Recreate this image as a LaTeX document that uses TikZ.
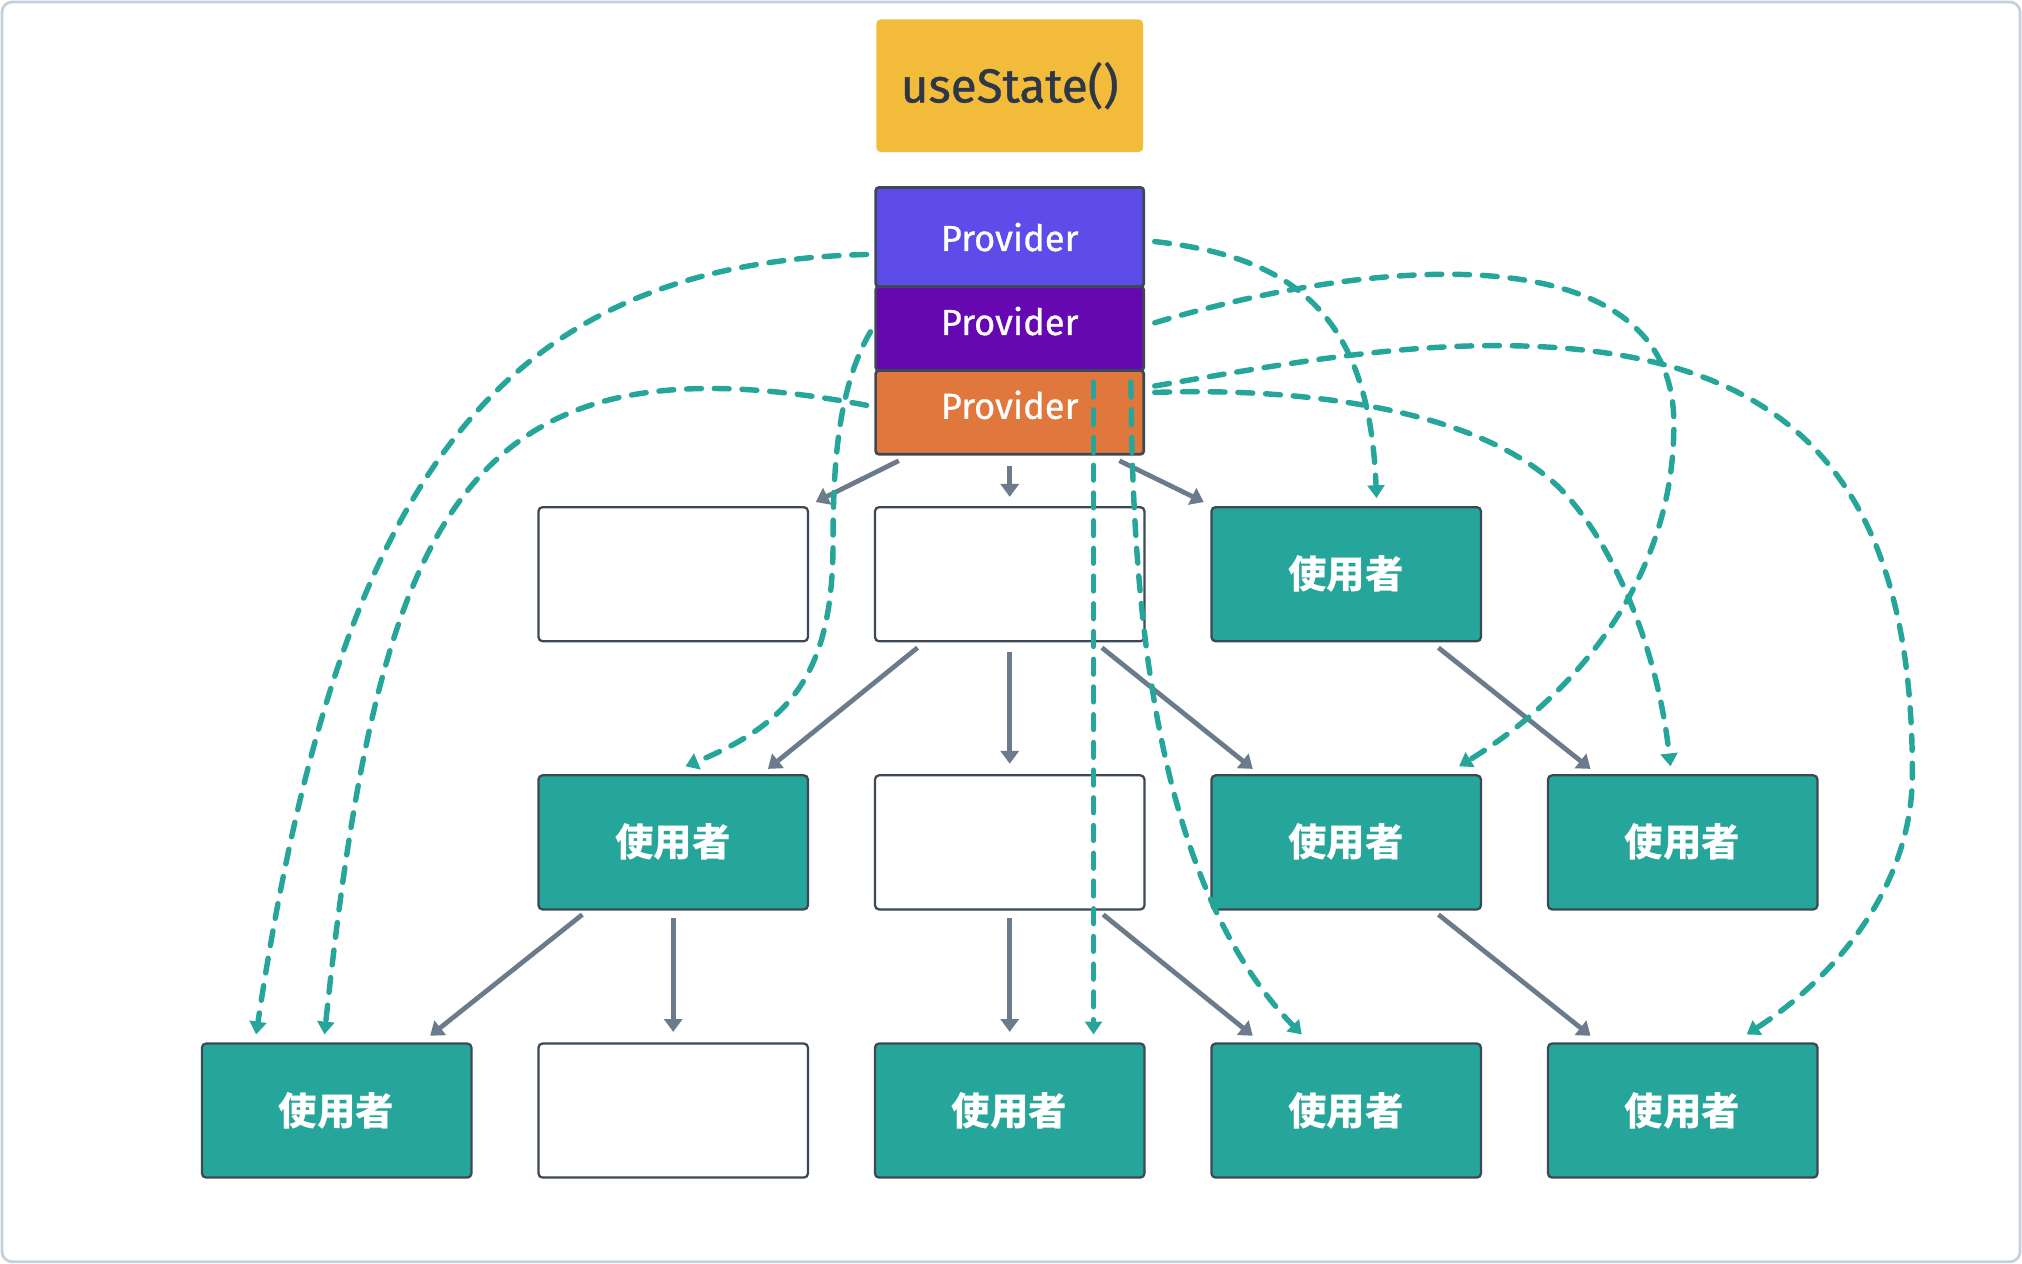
\documentclass[tikz,border=0pt]{standalone}
\usepackage{fontspec}
\setmainfont{Fira Sans}
\newfontfamily\labelfont{Fira Sans}[FakeBold=0.8]
\newfontfamily\cjk{Noto Sans CJK JP}
\usetikzlibrary{positioning,arrows.meta}

\definecolor{usergreen}{RGB}{38,166,154}
\definecolor{edgegrey}{RGB}{108,123,139}
\definecolor{boxline}{RGB}{61,72,84}
\definecolor{framegrey}{RGB}{196,208,220}
\definecolor{stateyellow}{RGB}{242,187,58}
\definecolor{statetext}{RGB}{45,55,72}
\definecolor{provA}{RGB}{93,76,234}
\definecolor{provB}{RGB}{102,8,178}
\definecolor{provC}{RGB}{224,120,61}

\begin{document}
\begin{tikzpicture}[
        x=0.02cm, y=-0.02cm,
        node distance=2.08cm and 1.04cm,
        flow/.style={-{Triangle[length=2mm, width=2.8mm]}, line width=2.1pt, draw=edgegrey},
        link/.style={-{Triangle[length=2mm, width=2.6mm]}, line width=2.4pt, draw=usergreen,
            dash pattern=on 2.3mm off 2mm, line cap=round},
        blank/.style={
            rectangle,
            rounded corners=1.8pt,
            draw=boxline,
            fill=white,
            line width=1pt,
            minimum width=4.18cm,
            minimum height=2.08cm,
            outer sep=0pt
        },
        user/.style={
            blank,
            fill=usergreen,
            text=white,
            font=\cjk\bfseries\fontsize{17}{20}\selectfont
        },
        provider/.style={
            rectangle,
            rounded corners=1.5pt,
            draw=boxline,
            line width=1.2pt,
            text=white,
            minimum width=4.16cm,
            font=\labelfont\fontsize{16}{19}\selectfont,
            outer sep=0pt
        }
    ]

    \useasboundingbox (0,0) rectangle (1568,980);
    \draw[framegrey, line width=1.2pt, rounded corners=1.6mm] (1.5,1.5) rectangle (1566.5,978.5);

    \node[rectangle, rounded corners=2pt, fill=stateyellow, text=statetext,
        minimum width=4.14cm, minimum height=2.06cm,
        font=\labelfont\fontsize{21}{25}\selectfont] (state) at (783,66.5) {useState()};

    \node[provider, fill=provA, minimum height=1.54cm, below=0.54cm of state] (provA) {Provider};
    \node[provider, fill=provB, minimum height=1.3cm, text depth=0.24cm, below=0pt of provA] (provB) {Provider};
    \node[provider, fill=provC, minimum height=1.3cm, text depth=0.24cm, below=0pt of provB] (provC) {Provider};

    % first row
    \node[blank, below=0.82cm of provC] (blank2) {};
    \node[blank, left=of blank2] (blank1) {};
    \node[user, right=of blank2] (user1) {使用者};

    % second row
    \node[user, below=of blank1] (user2) {使用者};
    \node[blank, below=of blank2] (blank3) {};
    \node[user, below=of user1] (user3) {使用者};
    \node[user, right=of user3] (user4) {使用者};

    % third row
    \node[blank, below=of user2] (blank4) {};
    \node[user, left=of blank4] (user5) {使用者};
    \node[user, below=of blank3] (user6) {使用者};
    \node[user, below=of user3] (user7) {使用者};
    \node[user, below=of user4] (user8) {使用者};

    % component tree
    \draw[flow] ([shift={(18,5)}]provC.south west) -- ([shift={(6,-4)}]blank1.north east);
    \draw[flow, shorten <=1.8mm, shorten >=1.6mm] (provC) -- (blank2);
    \draw[flow] ([shift={(-19,5)}]provC.south east) -- ([shift={(-6,-4)}]user1.north west);

    \draw[flow] ([shift={(33,5)}]blank2.south west) -- ([shift={(-31,-5)}]user2.north east);
    \draw[flow, shorten <=1.6mm, shorten >=1.8mm] (blank2) -- (blank3);
    \draw[flow] ([shift={(-33,5)}]blank2.south east) -- ([shift={(32,-5)}]user3.north west);
    \draw[flow] ([shift={(-33,5)}]user1.south east) -- ([shift={(33,-5)}]user4.north west);

    \draw[flow] ([shift={(34,4)}]user2.south west) -- ([shift={(-32,-6)}]user5.north east);
    \draw[flow, shorten <=1.4mm, shorten >=1.8mm] (user2) -- (blank4);
    \draw[flow, shorten <=1.4mm, shorten >=1.8mm] (blank3) -- (user6);
    \draw[flow] ([shift={(-32,4)}]blank3.south east) -- ([shift={(32,-6)}]user7.north west);
    \draw[flow] ([shift={(-33,4)}]user3.south east) -- ([shift={(33,-6)}]user8.north west);

    % context subscriptions
    \draw[link] ([shift={(-7,13.5)}]provA.west) .. controls (380,205) and (262,380)
        .. ([shift={(-62.5,-7)}]user5.north);
    \draw[link] ([shift={(-7,-5.5)}]provC.west) .. controls (360,255) and (295,395)
        .. ([shift={(-9.5,-7)}]user5.north);
    \draw[link] ([shift={(-4,2.5)}]provB.west) .. controls (650,300) and (646,360) .. (646,420)
        .. controls (646,520) and (615,560) .. ([shift={(9.5,-7)}]user2.north);
    \draw[link] ([shift={(65,-23.5)}]provC.center) -- ([shift={(65,-7)}]user6.north);
    \draw[link] ([shift={(94,-23.5)}]provC.center) .. controls (878,470) and (895,685)
        .. ([shift={(-34.5,-7)}]user7.north);
    \draw[link] ([shift={(8.5,3.5)}]provA.east) .. controls (1010,200) and (1062,250)
        .. ([shift={(23.5,-7)}]user1.north);
    \draw[link] ([shift={(8.5,-4.5)}]provB.east) .. controls (1080,195) and (1300,185) .. (1298,330)
        .. controls (1298,450) and (1220,540) .. ([shift={(87.5,-7)}]user3.north);
    \draw[link] ([shift={(8.5,-15.5)}]provC.east) .. controls (1020,300) and (1150,320) .. (1210,379)
        .. controls (1250,420) and (1285,500) .. ([shift={(-9.5,-7)}]user4.north);
    \draw[link] ([shift={(8.5,-20.5)}]provC.east) .. controls (980,285) and (1070,268) .. (1160,268)
        .. controls (1386,268) and (1483,368) .. (1483,600)
        .. controls (1483,690) and (1420,760) .. ([shift={(49.5,-7)}]user8.north);

\end{tikzpicture}
\end{document}
